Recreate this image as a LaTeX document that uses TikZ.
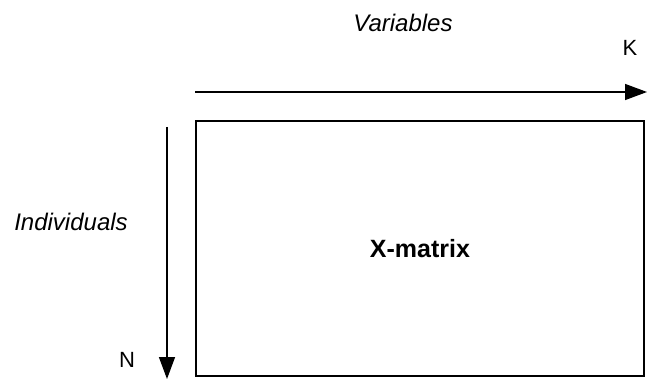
\documentclass[tikz,border=0pt]{standalone}
\usepackage{fontspec}
\setmainfont{Liberation Sans}
\usetikzlibrary{arrows.meta}
\begin{document}
\begin{tikzpicture}[x=1pt,y=-1pt,
  axis/.style={line width=1.4pt,-{Triangle[length=22pt,width=16pt]}},
  lbl/.style={inner sep=0pt,font=\fontsize{24}{26}\selectfont\itshape},
  idx/.style={inner sep=0pt,font=\fontsize{22}{24}\selectfont}]
  \useasboundingbox (0,0) rectangle (647,379);
  % data matrix box
  \node[draw,line width=1.4pt,minimum width=448pt,minimum height=255pt,
        inner sep=0pt,font=\fontsize{25}{28}\selectfont\bfseries]
        (mat) at (420,248.5) {X-matrix};
  % axis end points
  \coordinate (hs) at (195,92);
  \coordinate (he) at (647,92);
  \coordinate (vs) at (167,127);
  \coordinate (ve) at (167,379);
  \draw[axis] (hs) -- (he);
  \draw[axis] (vs) -- (ve);
  % labels
  \node[lbl] (var) at (403,23) {Variables};
  \node[lbl] (ind) at (71,222) {Individuals};
  \node[idx] (k) at (630,48) {K};
  \node[idx] (n) at (127,360) {N};
\end{tikzpicture}
\end{document}
